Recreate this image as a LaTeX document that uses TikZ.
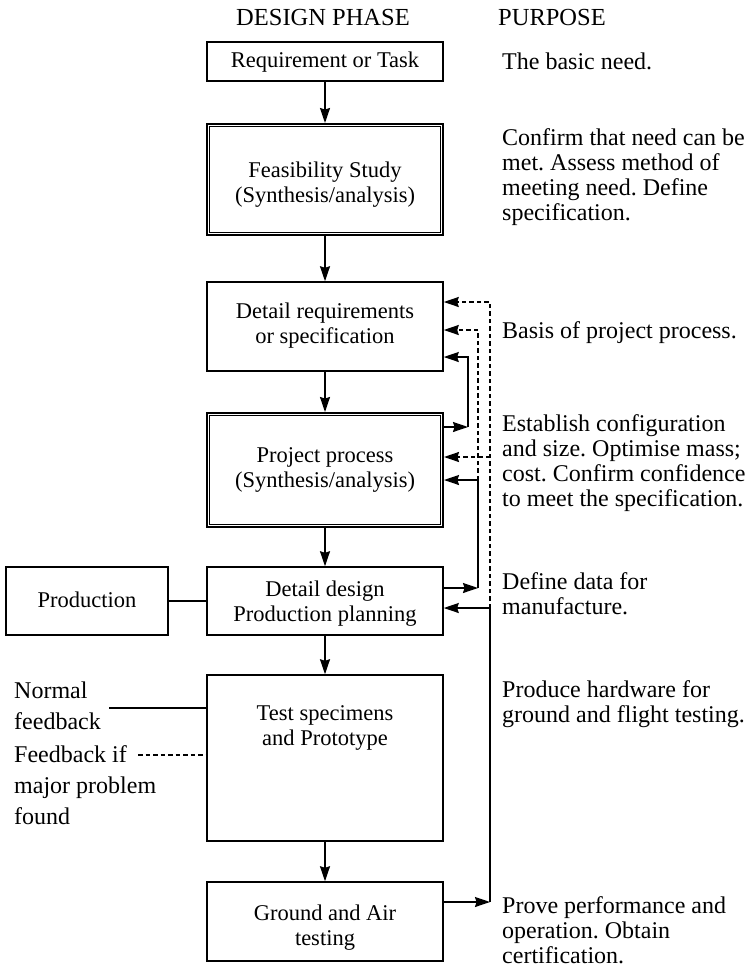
\documentclass[tikz,border=0pt]{standalone}
\usepackage{fontspec}
\setmainfont{Liberation Serif}
\usetikzlibrary{arrows.meta}
\frenchspacing
\newcommand{\tl}[1]{\begin{tabular}[t]{@{}l@{}}#1\end{tabular}}
\newcommand{\tc}[1]{\begin{tabular}[t]{@{}c@{}}#1\end{tabular}}
\begin{document}
\begin{tikzpicture}[x=1pt,y=-1pt,
  box/.style={draw, line width=1.5pt, minimum width=236pt, inner sep=0pt},
  dbox/.style={box, line width=2pt},
  inner/.style={line width=0.9pt},
  btxt/.style={font=\fontsize{22.5}{25}\selectfont, anchor=base, inner sep=0pt},
  rtxt/.style={font=\fontsize{24}{25}\selectfont, anchor=base west, inner sep=0pt},
  ltxt/.style={font=\fontsize{24}{31}\selectfont, anchor=base west, inner sep=0pt},
  head/.style={font=\fontsize{24.5}{26}\selectfont, inner sep=0pt},
  conn/.style={line width=1.5pt},
  arr/.style={conn, -{Stealth[length=15pt,width=10pt,inset=1.5pt]}},
  dsh/.style={line width=1.7pt, dash pattern=on 4.5pt off 3pt}
]
\useasboundingbox (0,0) rectangle (755,975);

% headings
\node[head, anchor=base] (h1) at (323,25) {DESIGN PHASE};
\node[head, anchor=base west] (h2) at (498,25) {PURPOSE};

% boxes
\node[box, minimum height=39pt] (req) at (325,61.5) {};
\node[dbox, minimum height=111pt] (feas) at (325,179.5) {};
\node[box, minimum height=89pt] (dreq) at (325,326.5) {};
\node[dbox, minimum height=114pt] (proj) at (325,470) {};
\node[box, minimum height=68pt] (ddes) at (325,601) {};
\node[box, minimum width=162pt, minimum height=68pt] (prod) at (87,601) {};
\node[box, minimum height=166pt] (test) at (325,758) {};
\node[box, minimum height=79pt] (ground) at (325,921.5) {};

% inner lines of double boxes
\draw[inner] ([xshift=3.8pt,yshift=-3.8pt]feas.north west) rectangle ([xshift=-3.8pt,yshift=3.8pt]feas.south east);
\draw[inner] ([xshift=3.8pt,yshift=-3.8pt]proj.north west) rectangle ([xshift=-3.8pt,yshift=3.8pt]proj.south east);

% box texts
\node[btxt] (reqt) at (325,67) {Requirement or Task};
\node[btxt] (feast) at (325,177) {\tc{Feasibility Study\\(Synthesis/analysis)}};
\node[btxt] (dreqt) at (325,318) {\tc{Detail requirements\\or specification}};
\node[btxt] (projt) at (325,462) {\tc{Project process\\(Synthesis/analysis)}};
\node[btxt] (ddest) at (325,596) {\tc{Detail design\\Production planning}};
\node[btxt] (prodt) at (87,607) {Production};
\node[btxt] (testt) at (325,720) {\tc{Test specimens\\and Prototype}};
\node[btxt] (groundt) at (325,920) {\tc{Ground and Air\\testing}};

% purpose texts
\node[rtxt] (p1) at (502,69) {The basic need.};
\node[rtxt] (p2) at (502,145) {\tl{Confirm that need can be\\met. Assess method of\\meeting need. Define\\specification.}};
\node[rtxt] (p3) at (502,338) {Basis of project process.};
\node[rtxt] (p4) at (502,431) {\tl{Establish configuration\\and size. Optimise mass;\\cost. Confirm confidence\\to meet the specification.}};
\node[rtxt] (p5) at (502,589) {\tl{Define data for\\manufacture.}};
\node[rtxt] (p6) at (502,697) {\tl{Produce hardware for\\ground and flight testing.}};
\node[rtxt] (p7) at (502,913) {\tl{Prove performance and\\operation. Obtain\\certification.}};

% left texts
\node[ltxt] (l1) at (14,698) {\tl{Normal\\feedback}};
\node[ltxt] (l2) at (14,762) {\tl{Feedback if\\major problem\\found}};

% main flow
\draw[arr] (req) -- (feas);
\draw[arr] (feas) -- (dreq);
\draw[arr] (dreq) -- (proj);
\draw[arr] (proj) -- (ddes);
\draw[arr] (ddes) -- (test);
\draw[arr] (test) -- (ground);
\draw[conn] (prod) -- (ddes);

% left feedback lines
\coordinate (nf) at (109,708);
\coordinate (ff) at (138,755);
\draw[conn] (nf) -- (test.west |- nf);
\draw[dsh] (ff) -- (test.west |- ff);

% right feedback coordinates
\coordinate (oTop) at (490,302);
\coordinate (oMid) at (490,457);
\coordinate (oDd) at (490,608);
\coordinate (oGr) at (490,902);
\coordinate (iTop) at (478,330);
\coordinate (iPp) at (478,480);
\coordinate (iDd) at (478,588);
\coordinate (lTop) at (468,357);
\coordinate (lBot) at (468,427);

% outer loop (ground -> detail design, dashed to project / requirements)
\draw[arr] (ground.east |- oGr) -- (oGr);
\draw[conn] (oGr) -- (oDd);
\draw[arr] (oDd) -- (ddes.east |- oDd);
\draw[arr, dsh] (oDd) -- (oTop) -- (dreq.east |- oTop);
\draw[arr, dsh] (oMid) -- (proj.east |- oMid);

% inner loop (detail design -> project, dashed to requirements)
\draw[arr] (ddes.east |- iDd) -- (iDd);
\draw[conn] (iDd) -- (iPp);
\draw[arr] (iPp) -- (proj.east |- iPp);
\draw[arr, dsh] (iPp) -- (iTop) -- (dreq.east |- iTop);

% project -> requirements loop
\draw[arr] (proj.east |- lBot) -- (lBot);
\draw[arr] (lBot) -- (lTop) -- (dreq.east |- lTop);
\end{tikzpicture}
\end{document}
